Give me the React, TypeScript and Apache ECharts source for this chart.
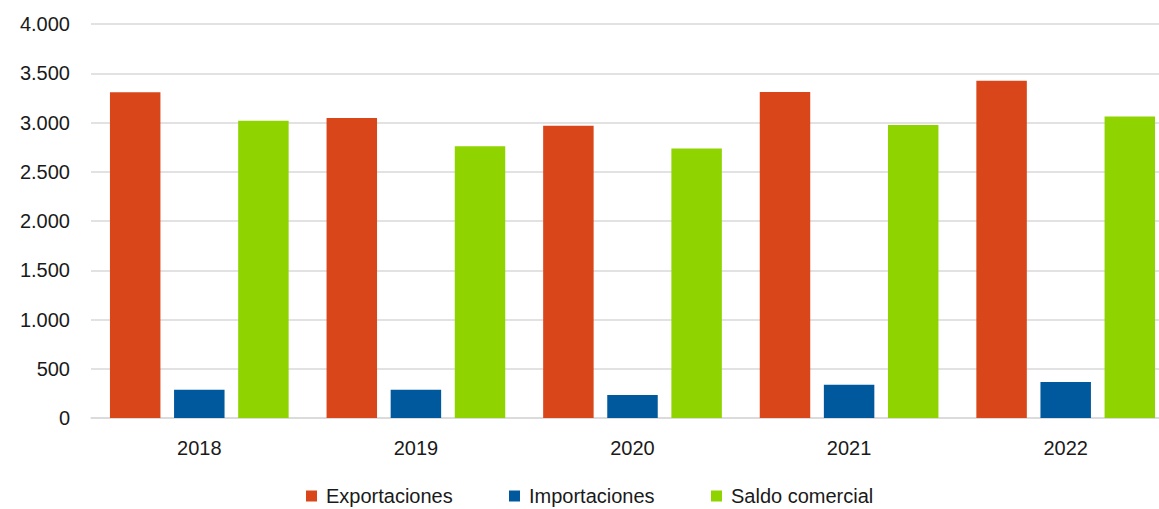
import React, { useEffect, useRef } from "react";
import * as echarts from "echarts";

const years = ["2018", "2019", "2020", "2021", "2022"];
const exportaciones = [3307, 3046, 2968, 3310, 3425];
const importaciones = [287, 287, 233, 338, 365];
const saldoComercial = [3018, 2760, 2735, 2975, 3060];
const seriesNames = ["Exportaciones", "Importaciones", "Saldo comercial"];
const seriesColors = ["#D9461A", "#00589D", "#8FD400"];
const legendLefts = [306, 509, 711];

const fmt = (v: number) => String(v).replace(/\B(?=(\d{3})+(?!\d))/g, ".");

export default function App() {
  const ref = useRef<HTMLDivElement>(null);
  useEffect(() => {
    if (!ref.current) return;
    const chart = echarts.init(ref.current, null, { renderer: "svg" });
    const font = "'Liberation Sans', Arial, sans-serif";
    const dataSets = [exportaciones, importaciones, saldoComercial];
    chart.setOption({
      animation: false,
      backgroundColor: "#ffffff",
      textStyle: { fontFamily: font },
      grid: { left: 91, top: 24, bottom: 91, right: 0, containLabel: false },
      legend: seriesNames.map((n, i) => ({
        data: [n],
        left: legendLefts[i],
        top: 486,
        padding: 0,
        itemWidth: 11,
        itemHeight: 11,
        icon: "rect",
        selectedMode: false,
        textStyle: { fontSize: 20, color: "#1a1a1a", fontFamily: font, padding: [0, 0, 0, 4] },
      })),
      xAxis: {
        type: "category",
        data: years,
        axisTick: { show: false },
        axisLine: { show: true, lineStyle: { color: "#D9D9D9", width: 1.5 } },
        axisLabel: { fontSize: 20, color: "#1a1a1a", margin: 20, fontFamily: font },
      },
      yAxis: {
        type: "value",
        min: 0,
        max: 4000,
        interval: 500,
        axisLine: { show: false },
        axisTick: { show: false },
        splitLine: { lineStyle: { color: "#D9D9D9", width: 1.5 } },
        axisLabel: { fontSize: 20, color: "#1a1a1a", margin: 21, formatter: (v: number) => fmt(v), fontFamily: font },
      },
      series: seriesNames.map((n, i) => ({
        name: n,
        type: "bar",
        data: dataSets[i],
        itemStyle: { color: seriesColors[i] },
        barCategoryGap: "17.5%",
        barGap: "27%",
      })),
    });
    return () => chart.dispose();
  }, []);
  return (
    <div
      style={{ position: "fixed", left: 0, top: 0, width: 1159, height: 509, overflow: "hidden", background: "#fff" }}
    >
      <div ref={ref} style={{ width: 1174, height: 509 }} />
    </div>
  );
}
